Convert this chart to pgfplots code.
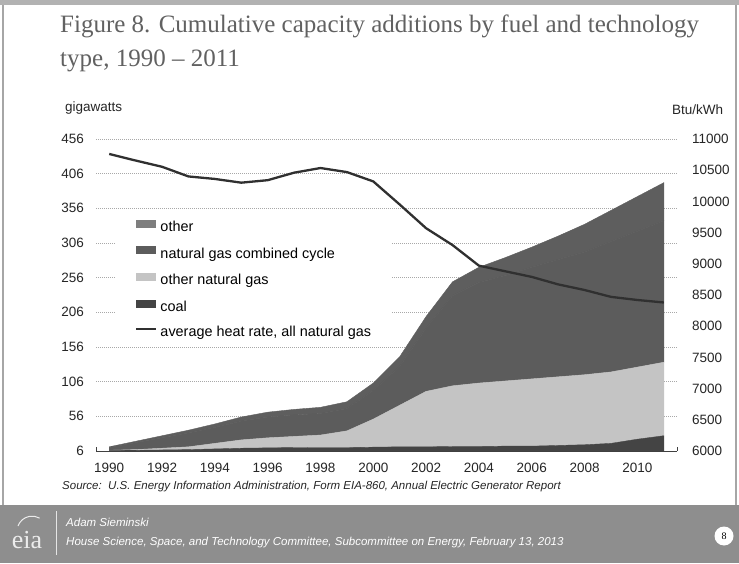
\documentclass[border=0pt]{standalone}
\usepackage{fontspec}
\setmainfont{Liberation Serif}
\newfontfamily\arial{Liberation Sans}
\usepackage{pgfplots}
\usepackage{pgfplotstable}
\pgfplotsset{compat=1.18}

\definecolor{coalc}{HTML}{444444}
\definecolor{ongc}{HTML}{C4C4C4}
\definecolor{ngccc}{HTML}{5C5C5C}
\definecolor{otherc}{HTML}{5E5E5E}
\definecolor{linec}{HTML}{303030}
\definecolor{gridc}{HTML}{A8A8A8}
\definecolor{footc}{HTML}{8E8E8E}

% cumulative additions, GW (stacked: coal, other gas, NGCC, other)
\pgfplotstableread{
year coal ong  ngcc other
1990 6.5  0.5  4   1
1991 7    1    10  2
1992 7.5  2.5  15  3
1993 8    4    20  4
1994 9    8    23  5
1995 10   12   27  6
1996 10.5 14.5 30  7
1997 11   16   31  8
1998 11   18   31  9
1999 11   24   32  10
2000 11.5 40.5 41  11
2001 12   60   56  14
2002 12   80   91  17
2003 12.5 87.5 130 20
2004 12.5 91.5 145 22
2005 13   94   152 26
2006 13   97   161 29
2007 14   99   169 34
2008 15   101  177 40
2009 17   103  188 45
2010 23   104  196 50
2011 28   106  204 55
}\capacity

% average heat rate, Btu/kWh
\pgfplotstableread{
year rate
1990 10760
1991 10655
1992 10555
1993 10400
1994 10360
1995 10300
1996 10340
1997 10460
1998 10535
1999 10470
2000 10320
2001 9950
2002 9570
2003 9300
2004 8970
2005 8880
2006 8790
2007 8670
2008 8580
2009 8470
2010 8420
2011 8380
}\heatrate

\pgfplotsset{
  swatch/.style={legend image code/.code={\fill[##1] (0pt,0pt) rectangle (20pt,8pt);}},
  lineswatch/.style={legend image code/.code={\draw[##1] (0pt,4pt) -- (20pt,4pt);}},
  ticks13/.style={ticklabel style={font=\arial\fontsize{13.5}{14}\selectfont, text=black!85}},
}

\begin{document}
\begin{tikzpicture}[x=1pt,y=1pt]
% slide frame
\fill[white] (0,0) rectangle (739,563);
\fill[gray!60] (0,558) rectangle (739,563);
\draw[gray!70, line width=1.5pt] (3,58) -- (3,558);
\draw[gray!70, line width=1.5pt] (736,58) -- (736,558);
\fill[footc] (0,0) rectangle (739,58);

% title
\node[anchor=base west, inner sep=0pt, text=black!62, font=\fontsize{25}{30}\selectfont] at (60,530) {Figure 8. Cumulative capacity additions by fuel and technology};
\node[anchor=base west, inner sep=0pt, text=black!62, font=\fontsize{25}{30}\selectfont] at (60,496) {type, 1990 – 2011};

% unit labels
\node[anchor=west, inner sep=0pt, font=\arial\fontsize{13.5}{14}\selectfont, text=black!85] at (65,455) {gigawatts};
\node[anchor=west, inner sep=0pt, font=\arial\fontsize{13.5}{14}\selectfont, text=black!85] at (672,453) {Btu/kWh};

% source
\node[anchor=west, inner sep=0pt, font=\arial\itshape\fontsize{11.5}{13}\selectfont, text=black!85] at (62,76) {Source:\ \ U.S. Energy Information Administration, Form EIA-860, Annual Electric Generator Report};

% footer
\node[anchor=base west, inner sep=0pt, text=white, font=\arial\itshape\fontsize{11.5}{13}\selectfont] at (66,37) {Adam Sieminski};
\node[anchor=base west, inner sep=0pt, text=white, font=\arial\itshape\fontsize{11.5}{13}\selectfont] at (66,18) {House Science, Space, and Technology Committee, Subcommittee on Energy, February 13, 2013};
\node[text=white!85!gray, font=\fontsize{26}{26}\selectfont] at (27,23) {eia};
\draw[white!85!gray, line width=1pt] (18,37) arc (160:60:15);
\draw[white!80!gray, line width=0.8pt] (56,8) -- (56,52);
\fill[white] (724,27) circle (9.5);
\node[font=\fontsize{10}{10}\selectfont] at (724,27) {8};

\begin{axis}[
  at={(96pt,112pt)}, anchor=south west,
  scale only axis, width=581pt, height=312pt,
  xmin=1989.5, xmax=2011.5, ymin=6, ymax=456,
  stack plots=y,
  axis x line*=bottom, axis y line*=left,
  y axis line style={draw=none},
  x axis line style={black!75, line width=1pt, -},
  xtick={1990,1992,...,2010},
  minor xtick={1989.5,1991.5,...,2011.5},
  major x tick style={draw=none},
  minor x tick style={black!75, line width=0.8pt},
  minor tick length=4pt,
  tick align=inside,
  ytick={6,56,...,456},
  ytick style={draw=none},
  ymajorgrids,
  grid style={gridc, dash pattern=on 1pt off 1pt, line width=0.7pt},
  ticks13,
  /pgf/number format/assume math mode=true,
  /pgf/number format/1000 sep={},
  scaled ticks=false,
  xticklabel style={yshift=-9pt},
  yticklabel style={xshift=-8.5pt},
]
\addplot[fill=coalc, draw=coalc, line width=0.4pt] table[x=year, y=coal]{\capacity} \closedcycle;
\addplot[fill=ongc, draw=ongc, line width=0.4pt] table[x=year, y=ong]{\capacity} \closedcycle;
\addplot[fill=ngccc, draw=ngccc, line width=0.4pt] table[x=year, y=ngcc]{\capacity} \closedcycle;
\addplot[fill=otherc, draw=otherc, line width=0.4pt] table[x=year, y=other]{\capacity} \closedcycle;
\end{axis}

\begin{axis}[
  at={(96pt,112pt)}, anchor=south west,
  scale only axis, width=581pt, height=312pt,
  xmin=1989.5, xmax=2011.5, ymin=6000, ymax=11000,
  axis x line=none, axis y line*=right,
  y axis line style={draw=none},
  ytick={6000,6500,...,11000},
  ytick style={draw=none},
  ticks13,
  /pgf/number format/assume math mode=true,
  /pgf/number format/1000 sep={},
  scaled ticks=false,
  yticklabel style={xshift=11.5pt},
  legend cell align=left,
  legend style={at={(axis description cs:0.0327,0.755)}, anchor=north west,
    draw=none, fill=white, font=\arial\fontsize{14.4}{16}\selectfont,
    inner xsep=20pt, inner ysep=4pt, row sep=11.9pt,
    nodes={inner sep=0pt, text height=10.5pt, text depth=3pt},
    /tikz/column sep=3pt},
]
\addlegendimage{swatch, fill=otherc!80!white, draw=none}
\addlegendentry{other}
\addlegendimage{swatch, fill=ngccc, draw=none}
\addlegendentry{natural gas combined cycle}
\addlegendimage{swatch, fill=ongc, draw=none}
\addlegendentry{other natural gas}
\addlegendimage{swatch, fill=coalc, draw=none}
\addlegendentry{coal}
\addplot[lineswatch, linec, line width=2.3pt, line join=round] table[x=year, y=rate]{\heatrate};
\addlegendentry{average heat rate, all natural gas}
\end{axis}
\end{tikzpicture}
\end{document}
